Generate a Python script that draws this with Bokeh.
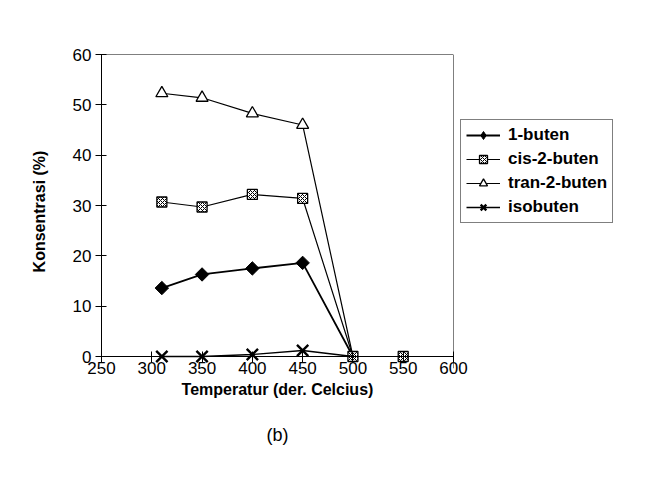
import math
from bokeh.plotting import figure
from bokeh.models import Range1d, Legend, LegendItem, Title, FixedTicker, Span
from bokeh.embed import file_html
from bokeh.resources import INLINE

# Temperature (°C) and concentration (%) of the butene isomers
temp = [310, 350, 400, 450, 500]
temp_cis = [310, 350, 400, 450, 500, 550]
buten_1 = [13.6, 16.3, 17.5, 18.6, 0.0]
cis_2_buten = [30.7, 29.7, 32.2, 31.4, 0.0, 0.0]
tran_2_buten = [52.3, 51.4, 48.3, 46.0, 0.0]
isobuten = [0.0, 0.0, 0.4, 1.2, 0.0]

x_ticks = [250, 300, 350, 400, 450, 500, 550, 600]
y_ticks = [0, 10, 20, 30, 40, 50, 60]

FONT = "Liberation Sans"

# a little room below zero so markers sitting on the axis are not cut
PAD = 12
Y_LOW = -PAD / (302 / 60)

p = figure(frame_width=352, frame_height=302 + PAD, output_backend="svg",
           toolbar_location=None,
           x_range=Range1d(250, 600), y_range=Range1d(Y_LOW, 60),
           min_border_left=101, min_border_right=200,
           min_border_top=54, min_border_bottom=128)
p.background_fill_color = "white"
p.border_fill_color = "white"
p.outline_line_color = None
p.xgrid.visible = False
p.ygrid.visible = False

for ax in (p.xaxis[0], p.yaxis[0]):
    ax.axis_line_color = "black"
    ax.major_tick_line_color = "black"
    ax.minor_tick_line_color = None
    ax.major_tick_in = 5
    ax.major_tick_out = 6
    ax.major_label_text_font = FONT
    ax.major_label_text_font_size = "17px"
    ax.major_label_text_color = "black"
    ax.axis_label_text_font = FONT
    ax.axis_label_text_font_size = "16px"
    ax.axis_label_text_font_style = "bold"
    ax.axis_label_text_color = "black"

p.xaxis.ticker = FixedTicker(ticks=x_ticks)
p.yaxis.ticker = FixedTicker(ticks=y_ticks)
p.yaxis.bounds = (0, 60)
# x axis sits under the padding; its ticks reach up to the zero line
p.xaxis.axis_line_color = None
p.xaxis.major_tick_in = PAD + 5
p.xaxis.major_tick_out = -PAD + 6
p.xaxis.axis_label = "Temperatur (der. Celcius)"
p.yaxis.axis_label = "Konsentrasi (%)"
p.xaxis.major_label_standoff = -7
p.yaxis.major_label_standoff = 4
p.xaxis.axis_label_standoff = 4
p.yaxis.axis_label_standoff = 22

# zero line, top and right edges of the plot box
p.add_layout(Span(location=0, dimension="width", line_color="black", line_width=1))
p.add_layout(Span(location=60, dimension="width", line_color="black", line_width=1))
p.add_layout(Span(location=600, dimension="height", line_color="black", line_width=1))

# 1-buten
l1 = p.line(temp, buten_1, line_color="black", line_width=1.8)
m1 = p.scatter(temp[:4], buten_1[:4], marker="square", size=9.5,
               angle=math.pi / 4, fill_color="black", line_color="black")
k1 = p.scatter(temp[:4], buten_1[:4], marker="diamond", size=14,
               fill_color="black", line_color="black", visible=False)

# cis-2-buten
l2 = p.line(temp_cis, cis_2_buten, line_color="black", line_width=1.2)
m2 = p.scatter(temp_cis, cis_2_buten, marker="square", size=10,
               fill_color="white", line_color="black", line_width=1.3,
               hatch_pattern="x", hatch_color="black", hatch_scale=4,
               hatch_weight=1)

# tran-2-buten
l3 = p.line(temp, tran_2_buten, line_color="black", line_width=1.2)
m3 = p.scatter(temp[:4], tran_2_buten[:4], marker="triangle", size=12,
               fill_color="white", line_color="black", line_width=1.3)

# isobuten
l4 = p.line(temp, isobuten, line_color="black", line_width=1.4)
m4 = p.scatter(temp[:4], isobuten[:4], marker="x", size=16,
               line_color="black", line_width=2.4)

legend = Legend(items=[
    LegendItem(label="1-buten", renderers=[l1, k1]),
    LegendItem(label="cis-2-buten", renderers=[l2, m2]),
    LegendItem(label="tran-2-buten", renderers=[l3, m3]),
    LegendItem(label="isobuten", renderers=[l4, m4]),
], location=(7, 145))
legend.margin = 0
legend.padding = 5
legend.spacing = 4
legend.label_height = 20
legend.glyph_height = 20
legend.glyph_width = 34
legend.label_standoff = 8
legend.inactive_fill_alpha = 0
legend.label_text_font = FONT
legend.label_text_font_size = "17px"
legend.label_text_font_style = "bold"
legend.label_text_color = "black"
legend.border_line_color = "black"
legend.border_line_width = 1
legend.background_fill_color = "white"
p.add_layout(legend, "right")

caption = Title(text="(b)", align="center", offset=49, standoff=44,
                text_font=FONT, text_font_size="18px",
                text_font_style="normal", text_color="black")
p.add_layout(caption, "below")

open("out.html", "w").write(file_html(p, INLINE))
